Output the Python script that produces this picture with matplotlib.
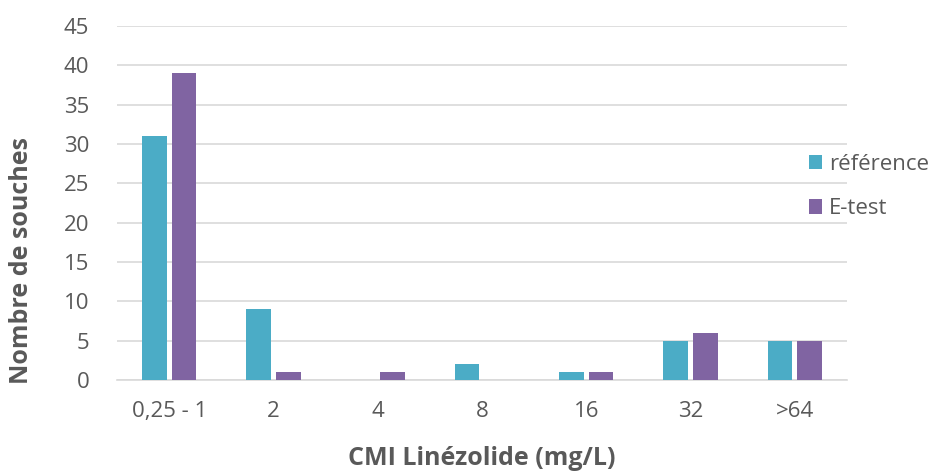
import numpy as np
import matplotlib.pyplot as plt

plt.rcParams['font.family'] = ['Open Sans', 'DejaVu Sans']

categories = ['0,25 - 1', '2', '4', '8', '16', '32', '>64']
reference = [31, 9, 0, 2, 1, 5, 5]
etest = [39, 1, 1, 0, 1, 6, 5]

teal = '#4BACC6'
purple = '#8064A2'
grey = '#595959'

fig = plt.figure(figsize=(9.39, 4.73), dpi=100)
ax = fig.add_axes([117/939, 1-380/473, 730/939, 354/473])

x = np.arange(len(categories))
w = 0.235
ax.bar(x - w/2 - 0.025, reference, w, color=teal, label='référence', zorder=3)
ax.bar(x + w/2 + 0.025, etest, w, color=purple, label='E-test', zorder=3)

ax.set_xlim(-0.5, len(categories) - 0.5)
ax.set_ylim(0, 45)
ax.set_yticks(range(0, 46, 5))
ax.set_xticks(x)
ax.set_xticklabels(categories)
ax.yaxis.grid(True, color='#D9D9D9', linewidth=1.2)
ax.set_axisbelow(True)
for s in ['top', 'right', 'left']:
    ax.spines[s].set_visible(False)
ax.spines['bottom'].set_color('#D9D9D9')
ax.spines['bottom'].set_linewidth(1.2)
ax.tick_params(axis='y', length=0, labelsize=16, colors=grey, pad=20)
ax.tick_params(axis='x', length=0, labelsize=16, colors=grey, pad=15)

ax.set_xlabel('CMI Linézolide (mg/L)', fontsize=18, fontweight='bold', color=grey)
ax.xaxis.set_label_coords(0.5, -66/354, transform=ax.transAxes)
ax.set_ylabel('Nombre de souches', fontsize=18, fontweight='bold', color=grey)
ax.yaxis.set_label_coords(-83/730, (380-261)/354, transform=ax.transAxes)

leg = fig.legend(loc='upper left', bbox_to_anchor=(789/939, 1-134/473), frameon=False,
                 fontsize=16, handlelength=0.6, handleheight=0.6, handletextpad=0.3,
                 labelspacing=1.05)
for t in leg.get_texts():
    t.set_color(grey)

fig.savefig('out.png', dpi=100)
